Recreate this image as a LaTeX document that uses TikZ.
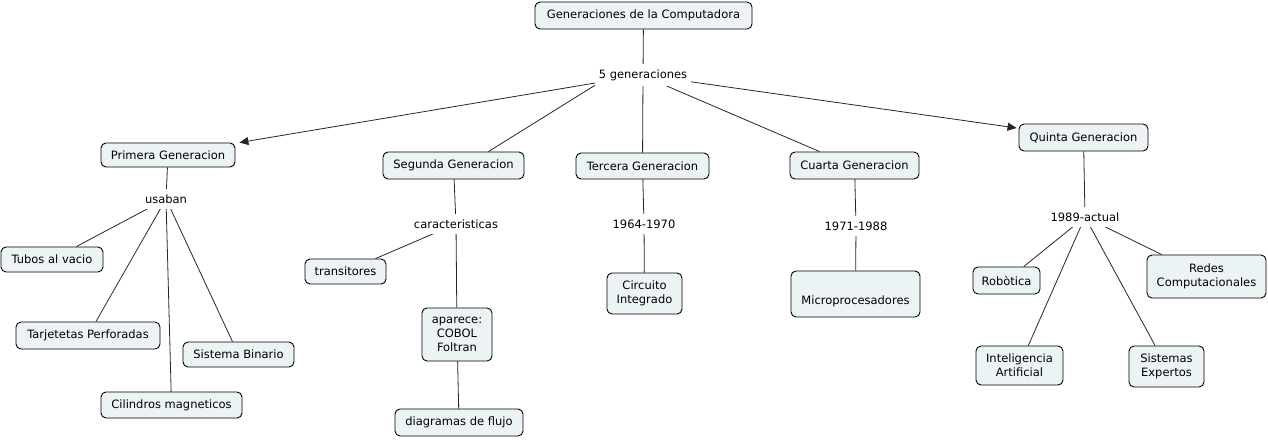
\documentclass[tikz,border=0pt]{standalone}
\usepackage{fontspec}
\setmainfont{DejaVu Sans}
\usetikzlibrary{arrows.meta,backgrounds}
\definecolor{cfill}{RGB}{236,243,245}
\begin{document}
\begin{tikzpicture}[x=1pt,y=-1pt,
  concept/.style={draw=black,line width=0.9pt,fill=cfill,rounded corners=5pt,
    align=center,inner sep=0pt,font=\fontsize{11.5}{14}\selectfont},
  lbl/.style={fill=white,inner xsep=4pt,inner ysep=5.5pt,font=\fontsize{11.5}{14}\selectfont},
  link/.style={draw=black!85,line width=0.8pt},
  arr/.style={link,-{Triangle[length=9pt,width=8pt]}}]
\useasboundingbox (0,0) rectangle (1268,439);
% concepts
\node[concept,minimum width=217pt,minimum height=27pt] (root) at (643.5,15.5) {Generaciones de la Computadora};
\node[lbl] (gen5) at (643,75) {5 generaciones};
\node[concept,minimum width=134pt,minimum height=24pt] (prim) at (168,155) {Primera Generacion};
\node[lbl] (usa) at (166,199) {usaban};
\node[concept,minimum width=102pt,minimum height=25pt] (tubos) at (52,259.5) {Tubos al vacio};
\node[concept,minimum width=144pt,minimum height=27pt] (tarj) at (88,335.5) {Tarjetetas Perforadas};
\node[concept,minimum width=111pt,minimum height=25pt] (sist) at (238.5,354.5) {Sistema Binario};
\node[concept,minimum width=141pt,minimum height=26pt] (cil) at (171.5,405) {Cilindros magneticos};
\node[concept,minimum width=141pt,minimum height=27pt] (seg) at (453.5,165.5) {Segunda Generacion};
\node[lbl] (car) at (456,224) {caracteristicas};
\node[concept,minimum width=81pt,minimum height=25pt] (trans) at (345.5,271.5) {transitores};
\node[concept,minimum width=70pt,minimum height=53pt] (apar) at (457,334.5) {aparece:\\COBOL\\Foltran};
\node[concept,minimum width=128pt,minimum height=27pt] (diag) at (459,422.5) {diagramas de flujo};
\node[concept,minimum width=133pt,minimum height=26pt] (ter) at (642.5,166) {Tercera Generacion};
\node[lbl] (y64) at (644,224) {1964-1970};
\node[concept,minimum width=75pt,minimum height=41pt] (circ) at (644.5,293.5) {Circuito\\Integrado};
\node[concept,minimum width=129pt,minimum height=27pt] (cua) at (854.5,165.5) {Cuarta Generacion};
\node[lbl] (y71) at (856,226) {1971-1988};
\node[concept,minimum width=129pt,minimum height=46pt] (micro) at (855.5,294) {};
\node[inner sep=0pt,font=\fontsize{11.5}{14}\selectfont] (microt) at (855.5,301) {Microprocesadores};
\node[concept,minimum width=129pt,minimum height=27pt] (quin) at (1083.5,137.5) {Quinta Generacion};
\node[lbl] (y89) at (1085,217) {1989-actual};
\node[concept,minimum width=67pt,minimum height=27pt] (robo) at (1006.5,280.5) {Robòtica};
\node[concept,minimum width=119pt,minimum height=43pt] (redes) at (1206.5,276.5) {Redes\\Computacionales};
\node[concept,minimum width=87pt,minimum height=39pt] (ia) at (1019.5,365.5) {Inteligencia\\Artificial};
\node[concept,minimum width=75pt,minimum height=41pt] (se) at (1166.5,366.5) {Sistemas\\Expertos};
% connectors
\begin{scope}[on background layer]
\draw[link] (root) -- (gen5.center);
\draw[arr] (gen5.center) -- ([xshift=4pt]prim.north east);
\draw[link] ([xshift=-48pt,yshift=1pt]gen5.south) -- ([xshift=-36pt]seg.north east);
\draw[link] (gen5.center) -- (ter);
\draw[link] ([xshift=22pt,yshift=1pt]gen5.south) -- ([xshift=30pt]cua.north west);
\draw[arr] (gen5.center) -- ([xshift=-2pt,yshift=9.5pt]quin.west);
\draw[link] (prim) -- (usa.center);
\draw[link] (usa.center) -- (tubos);
\draw[link] (usa.center) -- (tarj);
\draw[link] (usa.center) -- (cil);
\draw[link] (usa.center) -- (sist);
\draw[link] (seg) -- (car.center);
\draw[link] (car.center) -- (trans);
\draw[link] (car.center) -- (apar);
\draw[link] (apar) -- (diag);
\draw[link] (ter) -- (y64.center);
\draw[link] (y64.center) -- (circ);
\draw[link] (cua) -- (y71.center);
\draw[link] (y71.center) -- (micro);
\draw[link] (quin) -- (y89.center);
\draw[link] (y89.center) -- (robo);
\draw[link] (y89.center) -- (ia);
\draw[link] (y89.center) -- (se);
\draw[link] (y89.center) -- (redes);
\end{scope}
\end{tikzpicture}
\end{document}
